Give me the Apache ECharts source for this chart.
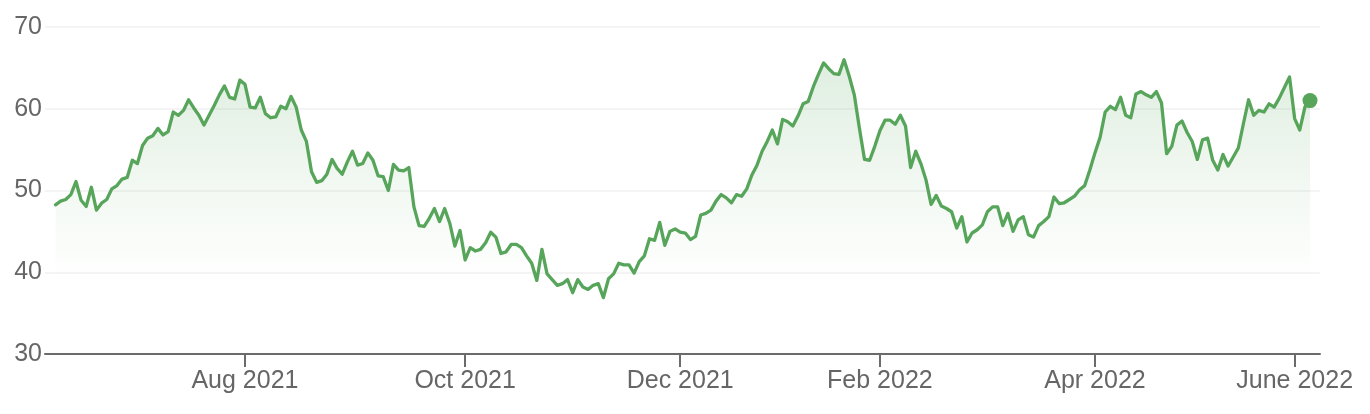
<!DOCTYPE html>
<html>
<head>
<meta charset="utf-8">
<script src="https://cdn.jsdelivr.net/npm/echarts@6/dist/echarts.min.js"></script>
<style>
  html, body { margin: 0; padding: 0; background: #ffffff; }
  #chart { width: 1370px; height: 414px; }
</style>
</head>
<body>
<div id="chart"></div>
<script>
// Daily closing values (trading days)
const prices = [
  48.25, 48.7, 48.9, 49.5, 51.1, 48.8, 48.05, 50.4, 47.6, 48.45,
  48.9, 50.2, 50.6, 51.4, 51.6, 53.7, 53.3, 55.5, 56.4, 56.7,
  57.6, 56.8, 57.2, 59.6, 59.2, 59.8, 61.1, 60.1, 59.2, 58.0,
  59.2, 60.4, 61.7, 62.8, 61.4, 61.2, 63.5, 63.0, 60.2, 60.1,
  61.4, 59.4, 58.9, 59.0, 60.3, 60.0, 61.5, 60.2, 57.4, 56.0,
  52.3, 51.0, 51.2, 52.0, 53.8, 52.7, 52.0, 53.5, 54.8, 53.1,
  53.3, 54.6, 53.7, 51.8, 51.7, 50.0, 53.2, 52.5, 52.4, 52.8,
  48.0, 45.7, 45.6, 46.6, 47.8, 46.2, 47.8, 46.0, 43.2, 45.1,
  41.5, 43.0, 42.6, 42.8, 43.6, 44.9, 44.3, 42.3, 42.5, 43.4,
  43.4, 43.0, 42.0, 41.1, 39.0, 42.8, 39.8, 39.1, 38.4, 38.6,
  39.1, 37.5, 39.1, 38.2, 37.9, 38.4, 38.6, 36.9, 39.2, 39.8,
  41.1, 40.9, 40.9, 39.9, 41.3, 42.0, 44.1, 43.9, 46.1, 43.3,
  45.0, 45.3, 44.9, 44.8, 44.0, 44.4, 47.0, 47.2, 47.6, 48.7,
  49.5, 49.1, 48.5, 49.5, 49.3, 50.2, 51.9, 53.1, 54.8, 56.0,
  57.4, 55.7, 58.7, 58.4, 57.9, 59.1, 60.6, 60.9, 62.7, 64.2,
  65.6, 64.9, 64.3, 64.2, 66.0, 64.0, 61.7, 57.6, 53.8, 53.7,
  55.4, 57.3, 58.6, 58.6, 58.1, 59.2, 57.9, 52.8, 54.8, 53.3,
  51.3, 48.3, 49.4, 48.1, 47.8, 47.4, 45.4, 46.8, 43.7, 44.8,
  45.2, 45.8, 47.4, 48.0, 48.0, 45.7, 47.2, 45.0, 46.4, 46.8,
  44.6, 44.3, 45.7, 46.2, 46.8, 49.2, 48.4, 48.5, 48.9, 49.3,
  50.1, 50.6, 52.5, 54.6, 56.5, 59.6, 60.3, 59.9, 61.4, 59.2,
  58.9, 61.8, 62.1, 61.7, 61.4, 62.1, 60.7, 54.5, 55.4, 58.0,
  58.5, 57.1, 56.0, 53.8, 56.2, 56.4, 53.7, 52.5, 54.4, 53.0,
  54.1, 55.2, 58.2, 61.1, 59.2, 59.8, 59.6, 60.6, 60.2, 61.3,
  62.6, 63.9, 58.8, 57.4, 60.2, 61.0
];

// Month tick labels and the trading-day index at which each month starts
const tickLabels = ['Aug 2021', 'Oct 2021', 'Dec 2021', 'Feb 2022', 'Apr 2022', 'June 2022'];
const tickIndex = [37, 80, 122, 161, 203, 242];

// Y axis ticks
const yTicks = [30, 40, 50, 60, 70];

const GREEN = '#57a55b';
const FONT = "'Liberation Sans', Arial, Helvetica, sans-serif";

const lineData = prices.map((v, i) => [i, v]);
const lastIdx = prices.length - 1;

const chart = echarts.init(document.getElementById('chart'), null, { renderer: 'canvas' });

chart.setOption({
  backgroundColor: '#ffffff',
  animation: false,
  grid: { left: 45, right: 50, top: 27, bottom: 60, containLabel: false },
  xAxis: {
    type: 'value',
    min: -2.05,
    max: lastIdx + 1.95,
    splitLine: { show: false },
    axisLine: { show: true, onZero: false, lineStyle: { color: '#6b6b6b', width: 2 } },
    axisTick: {
      show: true,
      customValues: tickIndex,
      length: 13,
      lineStyle: { color: '#6b6b6b', width: 2 }
    },
    axisLabel: {
      show: true,
      customValues: tickIndex,
      margin: 15,
      color: '#666666',
      fontSize: 25,
      fontFamily: FONT,
      formatter: function (v) {
        const k = tickIndex.indexOf(Math.round(v));
        return k >= 0 ? tickLabels[k] : '';
      }
    }
  },
  yAxis: {
    type: 'value',
    min: yTicks[0],
    max: yTicks[yTicks.length - 1],
    interval: 10,
    axisLine: { show: false },
    axisTick: { show: false },
    axisLabel: {
      margin: 3,
      color: '#666666',
      fontSize: 25,
      fontFamily: FONT
    },
    splitLine: { show: true, lineStyle: { color: '#f0f0f0', width: 1.5 } }
  },
  series: [
    {
      type: 'line',
      data: lineData,
      showSymbol: false,
      symbol: 'none',
      smooth: false,
      lineStyle: { color: GREEN, width: 3.3, join: 'round', cap: 'round' },
      areaStyle: {
        color: new echarts.graphic.LinearGradient(0, 0, 0, 1, [
          { offset: 0, color: 'rgba(87,165,91,0.27)' },
          { offset: 0.45, color: 'rgba(87,165,91,0.10)' },
          { offset: 0.76, color: 'rgba(87,165,91,0.0)' },
          { offset: 1, color: 'rgba(87,165,91,0.0)' }
        ])
      },
      z: 2
    },
    {
      type: 'scatter',
      data: [[lastIdx, prices[lastIdx]]],
      symbol: 'circle',
      symbolSize: 15,
      itemStyle: { color: GREEN, opacity: 1 },
      z: 3
    }
  ]
});
</script>
</body>
</html>
